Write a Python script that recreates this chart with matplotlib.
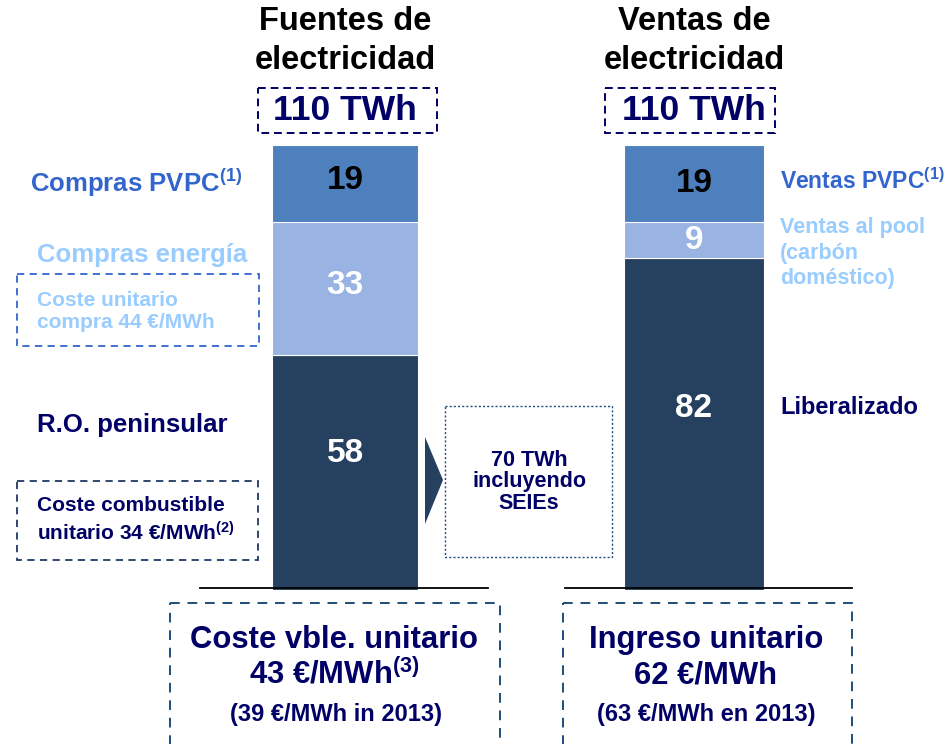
import matplotlib
matplotlib.use('Agg')
import matplotlib.pyplot as plt
from matplotlib.patches import Rectangle, Polygon
from matplotlib.transforms import Affine2D

plt.rcParams['font.family'] = ['Liberation Sans', 'DejaVu Sans']
plt.rcParams['font.weight'] = 'bold'
plt.rcParams['mathtext.fontset'] = 'custom'
plt.rcParams['mathtext.rm'] = 'Liberation Sans:bold'
plt.rcParams['mathtext.bf'] = 'Liberation Sans:bold'
plt.rcParams['mathtext.default'] = 'bf'

# data
bars = ['Fuentes de\nelectricidad', 'Ventas de\nelectricidad']
totals = ['110 TWh', '110 TWh']
fuentes = [58, 33, 19]   # bottom to top
ventas = [82, 9, 19]
fuentes_labels = ['R.O. peninsular', 'Compras energía', 'Compras PVPC$^{(1)}$']
ventas_labels = ['Liberalizado', 'Ventas al pool\n(carbón\ndoméstico)', 'Ventas PVPC$^{(1)}$']

DARK = '#26405f'
MID = '#4d80bd'
LIGHT = '#99b4e2'
NAVY = '#000066'
seg_colors = [DARK, LIGHT, MID]
num_colors = ['white', 'white', 'black']
lbl_colors = [NAVY, '#99ccff', '#3366cc']
# vertical nudge of the value labels (points, up)
num_offsets = [[14, 2, 2], [11, 0, 0]]

W, H = 947, 744
fig = plt.figure(figsize=(W / 100, H / 100), dpi=100)
# pixel transform (image coords, y down)
pix = Affine2D().scale(1 / W, -1 / H).translate(0, 1) + fig.transFigure

# bar axes: value 0 at y=590px, 110 at y=145px
ax = fig.add_axes([0, (H - 590) / H, 1, 445 / H])
ax.set_xlim(0, W)
ax.set_ylim(0, 110)
ax.axis('off')

centers = [345, 694]
widths = [146, 140]
for i, vals in enumerate([fuentes, ventas]):
    bottom = 0
    for j, v in enumerate(vals):
        ax.bar(centers[i], v, width=widths[i], bottom=bottom, color=seg_colors[j],
               edgecolor='white', linewidth=0.8)
        ax.annotate(str(v), (centers[i], bottom + v / 2), xytext=(0, num_offsets[i][j]),
                    textcoords='offset points', ha='center', va='center',
                    fontsize=24, color=num_colors[j], fontweight='bold')
        bottom += v

# titles and totals
for c, t, tot in zip(centers, bars, totals):
    fig.text(c, 41, t, transform=pix, ha='center', va='center', fontsize=23.5,
             color='black', linespacing=1.3)
    fig.text(c, 111, tot, transform=pix, ha='center', va='center', fontsize=25.5,
             color=NAVY)
fig.patches.append(Rectangle((258, 88), 179, 45, transform=pix, fill=False,
                             edgecolor=NAVY, linestyle=(0, (4, 2.5)), lw=1.4))
fig.patches.append(Rectangle((605, 88), 170, 45, transform=pix, fill=False,
                             edgecolor=NAVY, linestyle=(0, (4, 2.5)), lw=1.4))

# baselines
fig.lines.append(plt.Line2D([200, 488], [588, 588], transform=pix, color='black', lw=1.3))
fig.lines.append(plt.Line2D([565, 852], [588, 588], transform=pix, color='black', lw=1.3))

# left side labels
fig.text(30, 183, fuentes_labels[2], transform=pix, ha='left', va='center',
         fontsize=18.5, color=lbl_colors[2])
fig.text(37, 255, fuentes_labels[1], transform=pix, ha='left', va='center',
         fontsize=18.5, color=lbl_colors[1])
fig.text(37, 311, 'Coste unitario\ncompra 44 €/MWh', transform=pix, ha='left',
         va='center', fontsize=15, color='#99ccff', linespacing=1.2)
fig.patches.append(Rectangle((17, 274), 242, 72, transform=pix, fill=False,
                             edgecolor='#3366cc', linestyle=(0, (4, 3)), lw=1.3))
fig.text(37, 425, fuentes_labels[0], transform=pix, ha='left', va='center',
         fontsize=18.5, color=lbl_colors[0])
fig.text(37, 520, 'Coste combustible\nunitario 34 €/MWh$^{(2)}$', transform=pix,
         ha='left', va='center', fontsize=15, color=NAVY, linespacing=1.35)
fig.patches.append(Rectangle((17, 481), 241, 79, transform=pix, fill=False,
                             edgecolor='#1f3864', linestyle=(0, (4, 3)), lw=1.3))

# right side labels
fig.text(780, 181, ventas_labels[2], transform=pix, ha='left', va='center',
         fontsize=16.5, color=lbl_colors[2])
fig.text(780, 253, ventas_labels[1], transform=pix, ha='left', va='center',
         fontsize=15.5, color=lbl_colors[1], linespacing=1.3)
fig.text(780, 408, ventas_labels[0], transform=pix, ha='left', va='center',
         fontsize=17, color=lbl_colors[0])

# arrow and SEIEs box
fig.patches.append(Polygon([(425, 437), (443, 480), (425, 524)], closed=True,
                           transform=pix, facecolor=DARK, edgecolor='none'))
fig.patches.append(Rectangle((445, 406), 167, 151, transform=pix, fill=False,
                             edgecolor='#1f4e79', linestyle=(0, (1.5, 1.5)), lw=1.0))
fig.text(529, 482, '70 TWh\nincluyendo\nSEIEs', transform=pix, ha='center',
         va='center', fontsize=15.5, color=NAVY, linespacing=1.05)

# bottom boxes
fig.patches.append(Rectangle((170, 603), 330, 150, transform=pix, fill=False,
                             edgecolor='#1f4e79', linestyle=(0, (5, 4)), lw=1.4))
fig.patches.append(Rectangle((563, 603), 289, 150, transform=pix, fill=False,
                             edgecolor='#1f4e79', linestyle=(0, (5, 4)), lw=1.4))
fig.text(334, 640, 'Coste vble. unitario', transform=pix, ha='center', va='center',
         fontsize=22.3, color=NAVY)
fig.text(334, 675, '43 €/MWh$^{(3)}$', transform=pix, ha='center', va='center',
         fontsize=22.3, color=NAVY)
fig.text(336, 714, '(39 €/MWh in 2013)', transform=pix, ha='center', va='center',
         fontsize=17, color=NAVY)
fig.text(706, 640, 'Ingreso unitario', transform=pix, ha='center', va='center',
         fontsize=22.3, color=NAVY)
fig.text(706, 675, '62 €/MWh', transform=pix, ha='center', va='center',
         fontsize=22.3, color=NAVY)
fig.text(706, 714, '(63 €/MWh en 2013)', transform=pix, ha='center', va='center',
         fontsize=17, color=NAVY)

fig.savefig('out.png', dpi=100)
